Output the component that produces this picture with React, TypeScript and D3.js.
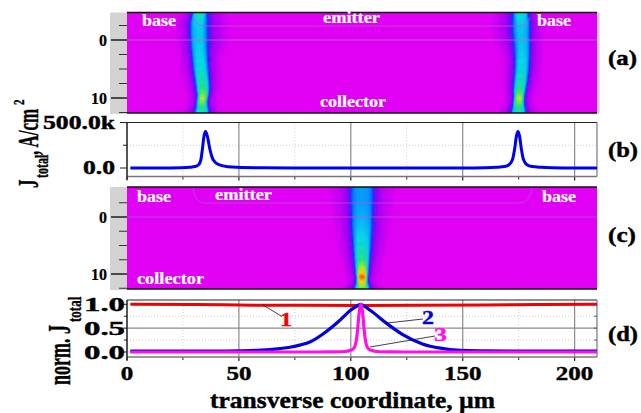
import React from 'react'
import * as d3 from 'd3'

// transverse coordinate ticks
const xMajor = [0, 50, 100, 150, 200]
const xMinor = [25, 75, 125, 175]

// panel (b): total current density, A/cm^2
const bX = [1.5, 15, 24, 28, 30.4, 32, 33, 33.7, 34.4, 35.1, 35.9, 37, 38.5, 41, 45, 60, 100, 150, 160, 165, 168.7, 170.7, 172.2, 173.2, 174, 174.7, 175.4, 176.2, 177.2, 178.7, 181, 185, 195, 210]
const bY = [0, 0, 3, 8, 16, 36, 90, 210, 350, 400, 350, 210, 90, 36, 15, 3, 0, 0, 3, 8, 16, 36, 90, 210, 350, 400, 350, 210, 90, 36, 16, 8, 1, 0]

// panel (d): normalised current density curves
const line1X = [1.5, 30, 50, 65, 80, 104.5, 130, 160, 185, 210]
const line1Y = [1.0, 0.995, 0.985, 0.98, 0.978, 0.975, 0.978, 0.985, 0.995, 1.0]
const line2X = [1.5, 40, 50, 58, 65, 72.8, 77.6, 81.7, 88.8, 95, 100, 103, 104.5, 106, 108.5, 116, 123, 132, 140, 148.7, 160, 175, 210]
const line2Y = [0.02, 0.02, 0.025, 0.035, 0.055, 0.1, 0.15, 0.21, 0.42, 0.66, 0.88, 0.97, 1.0, 0.96, 0.88, 0.6, 0.37, 0.17, 0.08, 0.035, 0.025, 0.02, 0.02]
const line3X = [1.5, 85, 92.5, 97.5, 99.5, 101.2, 102.3, 103, 103.5, 104.5, 105.5, 106, 106.7, 107.8, 109.5, 111.5, 116.5, 124, 210]
const line3Y = [0, 0, 0.002, 0.01, 0.03, 0.07, 0.2, 0.45, 0.72, 1.0, 0.72, 0.45, 0.2, 0.07, 0.03, 0.01, 0.002, 0, 0]

// filament traces in the heat maps, per depth
const depth = [-5.4, -3, -1, 1, 3, 5, 7, 8.5, 9.5, 10, 10.5, 11.5, 12.6]
const filAx = [32.5, 32, 32, 32.2, 32.6, 33, 33.6, 33.9, 33.9, 33.7, 33.5, 33.5, 33.4]
const filAw = [2.4, 3.1, 3.1, 3, 2.9, 2.8, 2.6, 2.4, 2.1, 2, 2, 2.2, 2.9]
const filApeak = [0.56, 0.42, 0.4, 0.41, 0.43, 0.46, 0.52, 0.6, 0.68, 0.72, 0.68, 0.56, 0.46]
const filBx = [175.8, 176.2, 176.3, 176.6, 176.6, 176.4, 175.9, 175.4, 175.2, 175.2, 175, 175, 175]
const filBw = [2.5, 3.1, 3, 2.8, 2.7, 2.6, 2.5, 2.3, 2, 2, 2, 2.3, 2.9]
const filBpeak = [0.5, 0.41, 0.39, 0.4, 0.42, 0.45, 0.5, 0.58, 0.68, 0.72, 0.68, 0.56, 0.46]
const filCx = [105, 105, 105, 105, 105, 105, 105, 105, 105, 105, 105, 105, 105]
const filCw = [4.4, 4.4, 4.1, 3.9, 3.6, 3.3, 2.9, 2.6, 2.4, 2.3, 2.1, 2.2, 3]
const filCpeak = [0.33, 0.33, 0.35, 0.38, 0.42, 0.47, 0.56, 0.68, 0.82, 0.9, 0.96, 0.8, 0.6]

// cross-section of a filament: distance in half widths -> share of the peak
const profileDist = [0, 0.5, 0.85, 1.05, 1.3, 1.7, 2.4, 3.2, 3.8]
const profileShare = [1, 0.97, 0.85, 0.68, 0.36, 0.2, 0.1, 0.03, 0]

const heatStops = [0, 0.08, 0.18, 0.3, 0.42, 0.58, 0.72, 0.85, 1]
const heatColors = ['#e000f4', '#9800f4', '#1030ff', '#0090ff', '#00dce8', '#20e880', '#b0f020', '#ffc800', '#ff2000']

const serif = '"Liberation Serif", "Times New Roman", serif'

const x = d3.scaleLinear().domain([0, 210]).range([127, 597])
const yA = d3.scaleLinear().domain([0, 10]).range([40, 98])
const yB = d3.scaleLinear().domain([0, 500]).range([168, 122.5])
const yC = d3.scaleLinear().domain([0, 10]).range([217, 274])
const yD = d3.scaleLinear().domain([0, 1]).range([352, 304.3])
const heat = d3.scaleLinear<string>().domain(heatStops).range(heatColors).clamp(true)
const share = d3.scaleLinear().domain(profileDist).range(profileShare).clamp(true)
const unit = d3.scaleLinear().clamp(true)

const curve = d3.line<[number, number]>().curve(d3.curveMonotoneX)
const path = (xs: number[], ys: number[], sy: d3.ScaleLinear<number, number>) =>
  curve(xs.map((v, i) => [x(v), sy(ys[i])] as [number, number])) as string

type Fil = { cx: number[]; w: number[]; peak: number[]; side: number }

const Heat = ({ y, top, bottom, fils, id }: { y: d3.ScaleLinear<number, number>; top: number; bottom: number; fils: Fil[]; id: string }) => {
  const cells: React.ReactNode[] = []
  const rows = d3.range(depth[0], depth[depth.length - 1], 0.2)
  fils.forEach((f, fi) => {
    const sc = d3.scaleLinear().domain(depth).range(f.cx)
    const sw = d3.scaleLinear().domain(depth).range(f.w)
    const sp = d3.scaleLinear().domain(depth).range(f.peak)
    rows.forEach((d, ri) => {
      const c = sc(d)
      d3.range(Math.floor(c) - 16, Math.floor(c) + 16, 0.5).forEach((u, ci) => {
        const dx = u + 0.25 - c
        let dist = Math.abs(dx) / sw(d)
        // halo leans to one side near the emitter
        if (dist > 1 && dx * f.side > 0) dist = 1 + (dist - 1) / (1 + 0.5 * unit((3 - d) / 3))
        // the hot core does not widen the halo
        const amp = d3.interpolateNumber(sp(d), Math.min(sp(d), 0.4))(unit((dist - 0.6) / 0.8))
        const v = amp * share(dist)
        if (v < 0.01) return
        cells.push(
          <rect key={`${fi}-${ri}-${ci}`} x={x(u)} y={y(d)} width={x(0.5) - x(0) + 0.4}
            height={y(0.2) - y(0) + 0.4} fill={heat(v)} />
        )
      })
    })
  })
  return (
    <g>
      <defs>
        <clipPath id={id}><rect x={127} y={top} width={470} height={bottom - top} /></clipPath>
        <filter id={id + 'b'} x="-5%" y="-5%" width="110%" height="110%"><feGaussianBlur stdDeviation="0.5" /></filter>
      </defs>
      <rect x={127} y={top} width={470} height={bottom - top} fill={heatColors[0]} />
      <g clipPath={`url(#${id})`}><g filter={`url(#${id}b)`}>{cells}</g></g>
    </g>
  )
}

const T = ({ x: px, y, w, size, fill = '#000', anchor = 'start', weight = 0.4, children }: any) => (
  <text x={px} y={y} fontSize={size} fontWeight="bold" fontFamily={serif} fill={fill} textAnchor={anchor}
    stroke={fill} strokeWidth={weight} textLength={w} lengthAdjust={w ? 'spacingAndGlyphs' : undefined}>{children}</text>
)

const V = ({ x: px, y, size, stretch = 1.7, children }: any) => (
  <text transform={`translate(${px},${y}) rotate(-90) scale(1,${stretch})`} fontSize={size} fontWeight="bold"
    fontFamily={serif} fill="#000" stroke="#000" strokeWidth={0.25}>{children}</text>
)

const DepthAxis = ({ y, top, bottom }: { y: d3.ScaleLinear<number, number>; top: number; bottom: number }) => (
  <g>
    <rect x={110} y={top} width={17} height={bottom - top + 1} fill="#d3d3d3" />
    {[-2.5, 2.5, 5, 7.5, 12.5].map(t => (
      <line key={t} x1={119} x2={127} y1={y(t)} y2={y(t)} stroke="#333" strokeWidth={1} />
    ))}
    {[0, 10].map(t => (
      <g key={t}>
        <line x1={111} x2={127} y1={y(t)} y2={y(t)} stroke="#111" strokeWidth={1.4} />
        <T x={107} y={y(t) + 5.5} size={16} anchor="end" weight={0.2}>{t}</T>
      </g>
    ))}
    <line x1={127} x2={597} y1={top} y2={top} stroke="#111" strokeWidth={1.5} />
    <line x1={127} x2={597} y1={bottom} y2={bottom} stroke="#111" strokeWidth={1.5} />
  </g>
)

const Frame = ({ top, bottom }: { top: number; bottom: number }) => (
  <g>
    {xMinor.map(t => (
      <g key={t}>
        <line x1={x(t)} x2={x(t)} y1={top} y2={bottom} stroke="#ccc" strokeDasharray="1 2" />
        <line x1={x(t)} x2={x(t)} y1={bottom} y2={bottom + 3} stroke="#222" />
      </g>
    ))}
    {xMajor.map(t => (
      <g key={t}>
        <line x1={x(t)} x2={x(t)} y1={top} y2={bottom} stroke="#8a8a8a" strokeWidth={1.2} />
        <line x1={x(t)} x2={x(t)} y1={bottom} y2={bottom + 4} stroke="#222" strokeWidth={1.2} />
      </g>
    ))}
  </g>
)

const Outline = ({ top, bottom }: { top: number; bottom: number }) => (
  <g fill="none">
    <line x1={127} x2={597} y1={top} y2={top} stroke="#222" strokeWidth={1.2} />
    <line x1={127} x2={597} y1={bottom} y2={bottom} stroke="#777" strokeWidth={1.4} />
    <line x1={597} x2={597} y1={top} y2={bottom} stroke="#777" strokeWidth={1.2} />
    <line x1={127} x2={127} y1={top} y2={bottom + 3} stroke="#111" strokeWidth={1.2} />
  </g>
)

export default function App() {
  return (
    <svg width={641} height={413} style={{ position: 'absolute', left: 0, top: 0, background: '#fff' }}>
      {/* (a) */}
      <Heat id="ha" y={yA} top={12.5} bottom={113} fils={[
        { cx: filAx, w: filAw, peak: filApeak, side: 1 },
        { cx: filBx, w: filBw, peak: filBpeak, side: -1 },
      ]} />
      <line x1={127} x2={597} y1={yA(0)} y2={yA(0)} stroke="#b070c0" strokeWidth={0.8} />
      <path d={`M194,18 Q197,26 204,26 H520 Q526,26 530,18`} fill="none" stroke="#c050d8" strokeWidth={0.8} />
      <rect x={597} y={12.5} width={2.5} height={101} fill="#c8c8c8" />
      <DepthAxis y={yA} top={12.5} bottom={113} />
      <T x={142} y={26} w={34} size={16} fill="#fff" weight={0.2}>base</T>
      <T x={323} y={23} w={57} size={16} fill="#fff" weight={0.2}>emitter</T>
      <T x={320} y={107} w={66} size={16} fill="#fff" weight={0.2}>collector</T>
      <T x={537} y={26} w={34} size={16} fill="#fff" weight={0.2}>base</T>

      {/* (b) */}
      <line x1={127} x2={597} y1={yB(250)} y2={yB(250)} stroke="#ccc" strokeDasharray="1 2" />
      <Frame top={122.5} bottom={176.5} />
      <line x1={120} x2={127} y1={yB(500)} y2={yB(500)} stroke="#222" />
      <line x1={123} x2={127} y1={yB(250)} y2={yB(250)} stroke="#222" />
      <line x1={120} x2={127} y1={yB(0)} y2={yB(0)} stroke="#222" />
      <Outline top={122.5} bottom={176.5} />
      <path d={path(bX, bY, yB)} fill="none" stroke="#0000f0" strokeWidth={3} />
      <T x={115} y={129} w={72} size={18} anchor="end">500.0k</T>
      <T x={115} y={174} w={32} size={18} anchor="end">0.0</T>

      {/* (c) */}
      <Heat id="hc" y={yC} top={187} bottom={289} fils={[{ cx: filCx, w: filCw, peak: filCpeak, side: 0 }]} />
      <line x1={127} x2={597} y1={yC(0)} y2={yC(0)} stroke="#c050d8" strokeWidth={0.8} />
      <path d={`M193,188 Q195,203 205,203 H520 Q530,203 532,188`} fill="none" stroke="#c050d8" strokeWidth={0.7} />
      <DepthAxis y={yC} top={187} bottom={289} />
      <T x={137} y={202} w={34} size={16} fill="#fff" weight={0.2}>base</T>
      <T x={215} y={200} w={57} size={16} fill="#fff" weight={0.2}>emitter</T>
      <T x={137} y={284} w={67} size={16} fill="#fff" weight={0.2}>collector</T>
      <T x={542} y={202} w={34} size={16} fill="#fff" weight={0.2}>base</T>

      {/* (d) */}
      {[0.25, 0.75].map(t => (
        <line key={t} x1={127} x2={597} y1={yD(t)} y2={yD(t)} stroke="#ccc" strokeDasharray="1 2" />
      ))}
      <line x1={127} x2={597} y1={yD(0.5)} y2={yD(0.5)} stroke="#8a8a8a" strokeWidth={1.2} />
      <Frame top={300} bottom={357} />
      {[0, 0.25, 0.5, 0.75, 1].map(t => (
        <g key={t}>
          <line x1={t * 2 % 1 === 0 ? 122 : 124} x2={127} y1={yD(t)} y2={yD(t)} stroke="#222" />
          <line x1={594} x2={597} y1={yD(t)} y2={yD(t)} stroke="#555" />
        </g>
      ))}
      <Outline top={300} bottom={357} />
      <path d={path(line1X, line1Y, yD)} fill="none" stroke="#f00000" strokeWidth={3} />
      <path d={path(line2X, line2Y, yD)} fill="none" stroke="#0000e0" strokeWidth={3.2} />
      <path d={path(line3X, line3Y, yD)} fill="none" stroke="#ff10e8" strokeWidth={3.2} />
      {[1, 0.5, 0].map(t => (
        <T key={t} x={125} y={yD(t) + 6.5} w={41} size={19} anchor="end">{t.toFixed(1)}</T>
      ))}
      {xMajor.map(t => (
        <T key={t} x={x(t)} y={380} w={String(t).length * 12.5} size={19} anchor="middle">{t}</T>
      ))}

      {/* curve labels */}
      <path d="M263,305 L282,316.5 M387,323 L423,319 M370,347 L435,336" fill="none" stroke="#111" strokeWidth={0.8} />
      <T x={280} y={326} w={12} size={19} fill="#f00000">1</T>
      <T x={422} y={324} w={12} size={19} fill="#0000e0">2</T>
      <T x={434} y={341} w={13} size={19} fill="#ff10e8">3</T>

      {/* panel tags */}
      <T x={608} y={65} w={29} size={20}>(a)</T>
      <T x={608} y={157} w={30} size={20}>(b)</T>
      <T x={608} y={242} w={28} size={20}>(c)</T>
      <T x={608} y={341} w={30} size={20}>(d)</T>

      {/* axis titles */}
      <T x={210} y={408} w={285} size={23}>transverse coordinate, µm</T>
      <V x={38} y={188} size={17}>J</V>
      <V x={48} y={178} size={12} stretch={1.5}>total</V>
      <V x={38} y={155} size={17}>, A/cm</V>
      <V x={24} y={105} size={11} stretch={1.4}>2</V>
      <V x={70} y={385} size={18}>norm. J</V>
      <V x={81} y={322} size={13} stretch={1.5}>total</V>
    </svg>
  )
}
